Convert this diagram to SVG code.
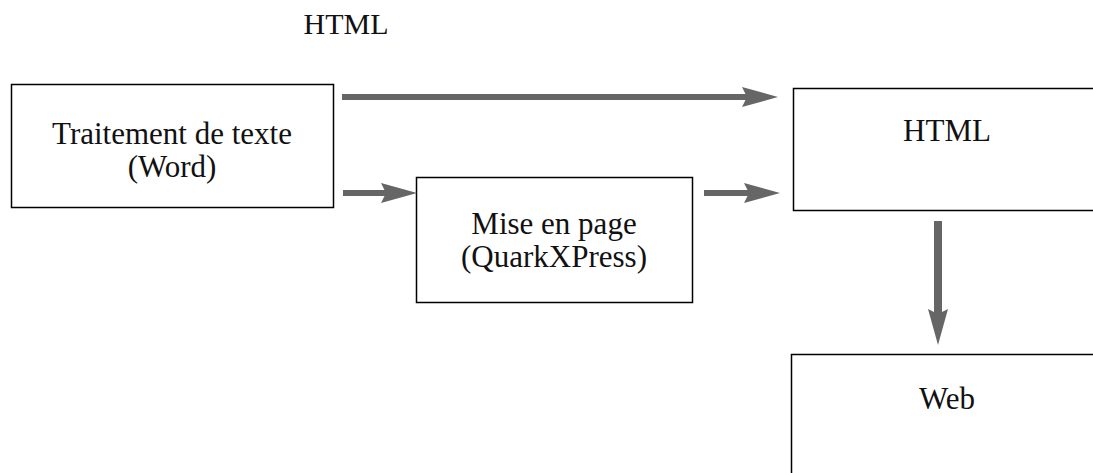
<svg xmlns="http://www.w3.org/2000/svg" width="1093" height="473" viewBox="0 0 1093 473">
<style>
.box{fill:#fff;stroke:#000;stroke-width:1.5}
.t{font-family:"Liberation Serif","Times New Roman",serif;font-size:31px;fill:#111;text-anchor:middle}
.c{stroke:#666;stroke-width:6;fill:none}
</style>
<defs>
<marker id="ah" markerUnits="userSpaceOnUse" markerWidth="40" markerHeight="22" refX="5" refY="10" orient="auto" overflow="visible">
<path d="M0,0 L36,10 L0,20 L5,10 Z" fill="#666"/>
</marker>
</defs>
<text class="t" x="346" y="34" style="font-size:30px">HTML</text>
<g id="word"><rect class="box" x="11.5" y="84.5" width="322" height="123"/>
<text class="t" x="172" y="144">Traitement de texte</text>
<text class="t" x="172" y="177">(Word)</text></g>
<g id="quark"><rect class="box" x="416.5" y="177.5" width="276" height="125"/>
<text class="t" x="554" y="234">Mise en page</text>
<text class="t" x="554" y="267">(QuarkXPress)</text></g>
<g id="html"><rect class="box" x="793.5" y="88.5" width="310" height="122"/>
<text class="t" x="947" y="141">HTML</text></g>
<g id="web"><rect class="box" x="791.5" y="354.5" width="312" height="130"/>
<text class="t" x="947" y="409">Web</text></g>
<g id="connectors">
<line class="c" x1="342" y1="97" x2="747" y2="97" marker-end="url(#ah)"/>
<line class="c" x1="343" y1="193" x2="386" y2="193" marker-end="url(#ah)"/>
<line class="c" x1="704" y1="193" x2="749" y2="193" marker-end="url(#ah)"/>
<line class="c" x1="938" y1="221" x2="938" y2="314" marker-end="url(#ah)" style="stroke-width:8"/>
</g>
</svg>
